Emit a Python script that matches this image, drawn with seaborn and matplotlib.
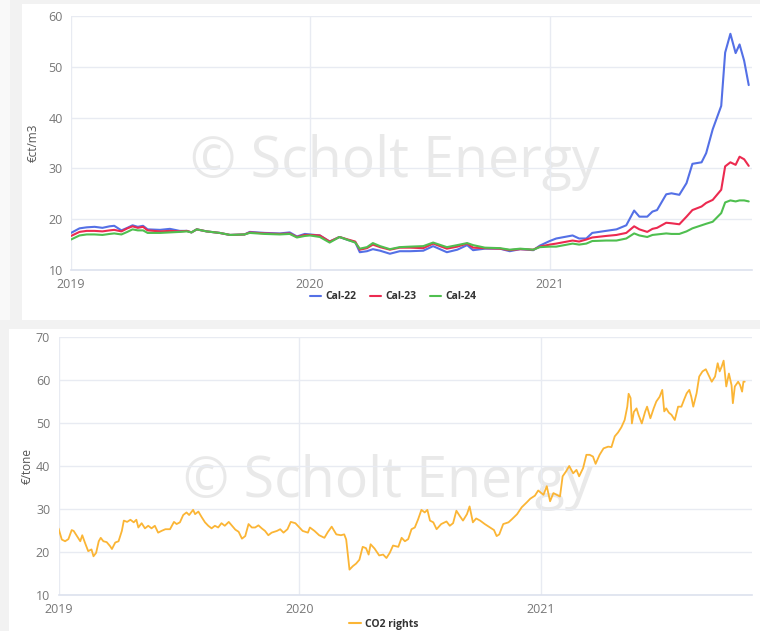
import matplotlib
matplotlib.use("Agg")
import matplotlib.pyplot as plt
import matplotlib.dates as mdates
from matplotlib.patches import Rectangle
from matplotlib.lines import Line2D
import seaborn as sns
import pandas as pd
import numpy as np

# ---------------- data: gas forward prices (€ct/m3) ----------------
gas_dates = [
    "2019-01-01", "2019-01-14", "2019-01-25", "2019-02-06", "2019-02-18", "2019-03-01",
    "2019-03-08", "2019-03-19", "2019-03-28", "2019-04-05", "2019-04-13", "2019-04-21",
    "2019-04-28", "2019-05-17", "2019-06-01", "2019-06-16", "2019-06-27", "2019-07-04",
    "2019-07-12", "2019-07-27", "2019-08-16", "2019-09-01", "2019-09-23", "2019-10-01",
    "2019-10-24", "2019-11-16", "2019-12-01", "2019-12-12", "2019-12-24", "2020-01-01",
    "2020-01-16", "2020-01-31", "2020-02-15", "2020-02-28", "2020-03-10", "2020-03-17",
    "2020-03-28", "2020-04-06", "2020-04-17", "2020-05-02", "2020-05-17", "2020-06-02",
    "2020-06-22", "2020-07-07", "2020-07-28", "2020-08-13", "2020-08-28", "2020-09-06",
    "2020-09-24", "2020-10-17", "2020-11-01", "2020-11-17", "2020-12-07", "2020-12-17",
    "2021-01-01", "2021-01-11", "2021-02-05", "2021-02-15", "2021-02-26", "2021-03-07",
    "2021-03-28", "2021-04-13", "2021-04-28", "2021-05-10", "2021-05-18", "2021-05-30",
    "2021-06-07", "2021-06-14", "2021-06-28", "2021-07-06", "2021-07-18", "2021-07-29",
    "2021-08-07", "2021-08-21", "2021-08-28", "2021-09-07", "2021-09-20", "2021-09-26",
    "2021-10-04", "2021-10-12", "2021-10-18", "2021-10-25", "2021-11-01",
]
cal22 = [
    17.3, 18.2, 18.4, 18.5, 18.3, 18.6, 18.7, 17.8, 18.3, 18.8, 18.5, 18.7,
    18.0, 17.9, 18.1, 17.7, 17.7, 17.4, 18.0, 17.6, 17.3, 16.9, 17.0, 17.5,
    17.3, 17.2, 17.4, 16.6, 17.1, 17.0, 16.8, 15.6, 16.5, 15.9, 15.5, 13.5,
    13.7, 14.1, 13.8, 13.2, 13.7, 13.7, 13.8, 14.7, 13.5, 14.0, 14.9, 13.9,
    14.2, 14.2, 13.7, 14.1, 13.9, 14.8, 15.7, 16.2, 16.8, 16.2, 16.2, 17.3,
    17.7, 18.0, 18.8, 21.7, 20.5, 20.5, 21.5, 21.8, 24.9, 25.1, 24.8, 27.1,
    30.9, 31.2, 33.0, 37.7, 42.3, 52.8, 56.5, 52.7, 54.4, 51.2, 46.4,
]
cal23 = [
    16.7, 17.5, 17.7, 17.7, 17.6, 17.8, 17.9, 17.6, 18.2, 18.6, 18.3, 18.5,
    17.8, 17.6, 17.7, 17.6, 17.7, 17.4, 18.0, 17.6, 17.3, 16.9, 17.0, 17.4,
    17.2, 17.1, 17.2, 16.5, 16.9, 16.9, 16.8, 15.6, 16.5, 16.0, 15.6, 14.0,
    14.3, 15.0, 14.5, 14.0, 14.4, 14.4, 14.3, 15.2, 14.2, 14.6, 15.2, 14.4,
    14.3, 14.2, 13.9, 14.1, 14.0, 14.6, 15.0, 15.2, 15.8, 15.6, 16.0, 16.4,
    16.7, 16.9, 17.3, 18.6, 18.0, 17.5, 18.1, 18.3, 19.3, 19.2, 19.0, 20.5,
    21.8, 22.5, 23.2, 23.8, 25.8, 30.4, 31.2, 30.7, 32.3, 31.8, 30.5,
]
cal24 = [
    16.0, 16.8, 17.0, 17.0, 16.9, 17.1, 17.2, 17.0, 17.5, 18.0, 17.8, 17.8,
    17.3, 17.3, 17.4, 17.5, 17.6, 17.4, 18.0, 17.6, 17.3, 16.9, 17.0, 17.3,
    17.1, 17.0, 17.1, 16.4, 16.7, 16.8, 16.5, 15.4, 16.5, 15.9, 15.4, 14.2,
    14.5, 15.3, 14.7, 14.1, 14.5, 14.6, 14.7, 15.4, 14.5, 14.9, 15.3, 14.9,
    14.4, 14.3, 14.0, 14.2, 14.0, 14.5, 14.6, 14.6, 15.2, 15.0, 15.2, 15.7,
    15.8, 15.8, 16.2, 17.2, 16.8, 16.5, 16.9, 17.0, 17.2, 17.1, 17.1, 17.6,
    18.2, 18.8, 19.1, 19.5, 21.2, 23.3, 23.7, 23.5, 23.7, 23.7, 23.5,
]
gas_series = ["Cal-22", "Cal-23", "Cal-24"]

# ---------------- data: CO2 rights (€/tone) ----------------
co2_dates = [
    "2019-01-01", "2019-01-06", "2019-01-11", "2019-01-16", "2019-01-21", "2019-01-24",
    "2019-01-29", "2019-02-03", "2019-02-06", "2019-02-10", "2019-02-15", "2019-02-20",
    "2019-02-23", "2019-02-27", "2019-03-03", "2019-03-06", "2019-03-10", "2019-03-15",
    "2019-03-20", "2019-03-23", "2019-03-28", "2019-04-02", "2019-04-07", "2019-04-10",
    "2019-04-15", "2019-04-20", "2019-04-25", "2019-04-29", "2019-05-02", "2019-05-07",
    "2019-05-12", "2019-05-17", "2019-05-22", "2019-05-27", "2019-06-01", "2019-06-06",
    "2019-06-12", "2019-06-19", "2019-06-25", "2019-06-29", "2019-07-04", "2019-07-09",
    "2019-07-14", "2019-07-18", "2019-07-24", "2019-07-27", "2019-08-01", "2019-08-06",
    "2019-08-11", "2019-08-16", "2019-08-21", "2019-08-26", "2019-08-31", "2019-09-05",
    "2019-09-10", "2019-09-16", "2019-09-21", "2019-09-26", "2019-10-01", "2019-10-06",
    "2019-10-11", "2019-10-16", "2019-10-21", "2019-10-26", "2019-10-31", "2019-11-05",
    "2019-11-10", "2019-11-15", "2019-11-20", "2019-11-28", "2019-12-03", "2019-12-08",
    "2019-12-14", "2019-12-19", "2019-12-26",
    "2020-01-06", "2020-01-14", "2020-01-17", "2020-01-24", "2020-01-31", "2020-02-08",
    "2020-02-13", "2020-02-19", "2020-02-26", "2020-03-04", "2020-03-09", "2020-03-12",
    "2020-03-17", "2020-03-22", "2020-03-27", "2020-04-01", "2020-04-06", "2020-04-11",
    "2020-04-15", "2020-04-18", "2020-04-24", "2020-05-01", "2020-05-07", "2020-05-12",
    "2020-05-17", "2020-05-22", "2020-05-30", "2020-06-04", "2020-06-09", "2020-06-14",
    "2020-06-19", "2020-06-24", "2020-06-29", "2020-07-04", "2020-07-09", "2020-07-13",
    "2020-07-17", "2020-07-22", "2020-07-27", "2020-08-03", "2020-08-11", "2020-08-16",
    "2020-08-21", "2020-08-26", "2020-08-31", "2020-09-05", "2020-09-11", "2020-09-15",
    "2020-09-20", "2020-09-25", "2020-10-01", "2020-10-08", "2020-10-16", "2020-10-22",
    "2020-10-26", "2020-10-30", "2020-11-05", "2020-11-13", "2020-11-18", "2020-11-26",
    "2020-12-03", "2020-12-11", "2020-12-16", "2020-12-23", "2020-12-28",
    "2021-01-05", "2021-01-10", "2021-01-15", "2021-01-20", "2021-01-25", "2021-01-30",
    "2021-02-03", "2021-02-08", "2021-02-13", "2021-02-19", "2021-02-24", "2021-02-28",
    "2021-03-06", "2021-03-11", "2021-03-16", "2021-03-21", "2021-03-25", "2021-03-31",
    "2021-04-06", "2021-04-13", "2021-04-18", "2021-04-23", "2021-04-28", "2021-05-03",
    "2021-05-08", "2021-05-12", "2021-05-14", "2021-05-17", "2021-05-19", "2021-05-22",
    "2021-05-26", "2021-05-29", "2021-06-03", "2021-06-08", "2021-06-11", "2021-06-16",
    "2021-06-21", "2021-06-25", "2021-06-30", "2021-07-04", "2021-07-07", "2021-07-10",
    "2021-07-14", "2021-07-18", "2021-07-23", "2021-07-28", "2021-08-02", "2021-08-06",
    "2021-08-10", "2021-08-14", "2021-08-17", "2021-08-20", "2021-08-25", "2021-08-29",
    "2021-09-03", "2021-09-08", "2021-09-12", "2021-09-17", "2021-09-22", "2021-09-26",
    "2021-09-29", "2021-10-02", "2021-10-05", "2021-10-09", "2021-10-13", "2021-10-17",
    "2021-10-19", "2021-10-22", "2021-10-27", "2021-10-30", "2021-11-02", "2021-11-04",
    "2021-11-06",
]
co2_values = [
    25.5, 22.9, 22.5, 23.0, 25.1, 24.9, 23.7, 22.5, 23.9, 22.2, 20.2, 20.6,
    19.0, 19.8, 22.5, 23.3, 22.5, 22.3, 21.4, 20.7, 22.2, 22.5, 24.9, 27.3,
    27.0, 27.5, 26.9, 27.5, 25.7, 26.7, 25.5, 26.1, 25.5, 26.1, 24.5, 24.9,
    25.3, 25.3, 27.0, 26.5, 26.9, 28.6, 29.2, 28.6, 29.8, 28.8, 29.4, 28.1,
    26.9, 26.1, 25.5, 26.1, 25.7, 26.7, 26.1, 27.0, 26.1, 25.2, 24.7, 23.1,
    23.7, 26.5, 25.7, 25.7, 26.2, 25.5, 24.9, 23.9, 24.5, 24.9, 25.3, 24.5,
    25.3, 27.0, 26.7,
    24.9, 24.5, 25.7, 24.9, 23.9, 23.3, 24.6, 25.9, 24.1, 23.9, 24.1, 22.9,
    15.9, 16.7, 17.3, 18.2, 21.2, 20.9, 19.4, 21.8, 20.8, 19.2, 19.4, 18.6,
    19.8, 21.5, 21.2, 23.3, 22.5, 23.0, 25.3, 25.7, 27.6, 29.8, 29.2, 29.8,
    27.3, 26.9, 25.3, 26.5, 27.1, 26.1, 26.7, 29.6, 28.4, 27.3, 28.8, 30.6,
    26.9, 27.8, 27.3, 26.5, 25.7, 25.1, 23.7, 24.1, 26.5, 26.9, 27.6, 28.8,
    30.4, 31.6, 32.4, 33.1, 34.3,
    33.3, 35.3, 31.8, 33.7, 33.3, 32.9, 37.6, 38.7, 40.0, 38.3, 39.1, 37.6,
    39.5, 42.6, 42.6, 42.2, 40.5, 42.6, 44.1, 44.5, 44.4, 46.9, 47.8, 49.0,
    50.7, 53.8, 56.8, 55.8, 49.9, 52.6, 53.4, 51.9, 49.9, 52.6, 53.8, 51.1,
    53.4, 55.0, 56.1, 57.7, 52.7, 53.4, 52.4, 51.9, 50.7, 53.8, 53.8, 55.4,
    56.9, 57.7, 56.1, 53.8, 56.9, 60.8, 62.0, 62.5, 61.2, 59.6, 60.8, 63.9,
    62.0, 63.1, 64.5, 58.5, 61.5, 58.8, 54.6, 58.5, 59.6, 58.8, 57.3, 59.6,
    59.6,
]
co2_label = "CO2 rights"

# ---------------- frames ----------------
gas_df = pd.DataFrame({
    "date": pd.to_datetime(gas_dates * 3),
    "value": cal22 + cal23 + cal24,
    "series": [s for s in gas_series for _ in gas_dates],
})
co2_df = pd.DataFrame({
    "date": pd.to_datetime(co2_dates),
    "value": co2_values,
    "series": co2_label,
})

# ---------------- style ----------------
sns.set_theme(style="white")
plt.rcParams["font.family"] = ["Open Sans", "DejaVu Sans"]

W, H = 760, 631
fig = plt.figure(figsize=(W / 100, H / 100), dpi=100, facecolor="#f2f2f2")

def frac_rect(x0, y0, x1, y1, color):
    fig.patches.append(Rectangle((x0 / W, 1 - y1 / H), (x1 - x0) / W, (y1 - y0) / H,
                                 transform=fig.transFigure, facecolor=color,
                                 edgecolor="none", zorder=-10))

frac_rect(0, 0, 10, 320, "#f9f9f9")
frac_rect(22, 4, 760, 320, "white")
frac_rect(9, 329, 760, 631, "white")

colors_gas = {"Cal-22": "#5470e6", "Cal-23": "#ec2a50", "Cal-24": "#4fbf4f"}
co2_color = "#fbb535"
grid_c = "#e8ebf2"
tick_c = "#777777"

ax1 = fig.add_axes([71 / W, 1 - 270 / H, 681 / W, 254 / H])
ax2 = fig.add_axes([58.5 / W, 1 - 595 / H, 693.5 / W, 258 / H])

sns.lineplot(data=gas_df, x="date", y="value", hue="series", palette=colors_gas,
             linewidth=1.5, ax=ax1, legend=False)
sns.lineplot(data=co2_df, x="date", y="value", color=co2_color, linewidth=1.3,
             ax=ax2, legend=False)

def style_axes(ax, ylim, yticks, xmax, ylabel, label_x):
    ax.set_facecolor("none")
    ax.set_ylim(*ylim)
    ax.set_yticks(yticks)
    ax.set_xlim(pd.Timestamp("2019-01-01"), pd.Timestamp(xmax))
    ax.xaxis.set_major_locator(mdates.YearLocator())
    ax.xaxis.set_major_formatter(mdates.DateFormatter("%Y"))
    ax.grid(True, color=grid_c, linewidth=1.0)
    ax.set_axisbelow(True)
    for s in ["top", "right", "left"]:
        ax.spines[s].set_visible(False)
    ax.spines["bottom"].set_color("#dde2ee")
    ax.spines["bottom"].set_linewidth(1.2)
    ax.tick_params(axis="y", length=4, color=grid_c, labelsize=9, labelcolor=tick_c, pad=2)
    ax.tick_params(axis="x", length=5, color="#dde2ee", labelsize=9, labelcolor=tick_c, pad=1)
    ax.set_xlabel("")
    ax.set_ylabel(ylabel, fontsize=8.5, color="#555555")
    ax.yaxis.set_label_coords(label_x, 0.5)

style_axes(ax1, (10, 60), [10, 20, 30, 40, 50, 60], "2021-11-06", "€ct/m3", -0.046)
style_axes(ax2, (10, 70), [10, 20, 30, 40, 50, 60, 70], "2021-11-17", "€/tone", -0.035)

# watermark
ax1.text(0.475, 0.425, "© Scholt Energy", transform=ax1.transAxes, ha="center",
         va="center", fontsize=40, color="#e9e9e9", zorder=0)
ax2.text(0.475, 0.435, "© Scholt Energy", transform=ax2.transAxes, ha="center",
         va="center", fontsize=40, color="#e9e9e9", zorder=0)

# legends
h_gas = [Line2D([0], [0], color=colors_gas[s], lw=1.5) for s in gas_series]
fig.legend(h_gas, gas_series, loc="center", bbox_to_anchor=(393 / W, 1 - 297 / H),
           ncol=3, frameon=False, handlelength=1.1, handletextpad=0.4, columnspacing=1.3,
           prop={"size": 7.5, "weight": "bold"}, labelcolor="#333333")
fig.legend([Line2D([0], [0], color=co2_color, lw=1.5)], [co2_label], loc="center",
           bbox_to_anchor=(384 / W, 1 - 624 / H), frameon=False, handlelength=1.1,
           handletextpad=0.4, prop={"size": 7.5, "weight": "bold"}, labelcolor="#333333")

fig.savefig("out.png", dpi=100, facecolor=fig.get_facecolor())
